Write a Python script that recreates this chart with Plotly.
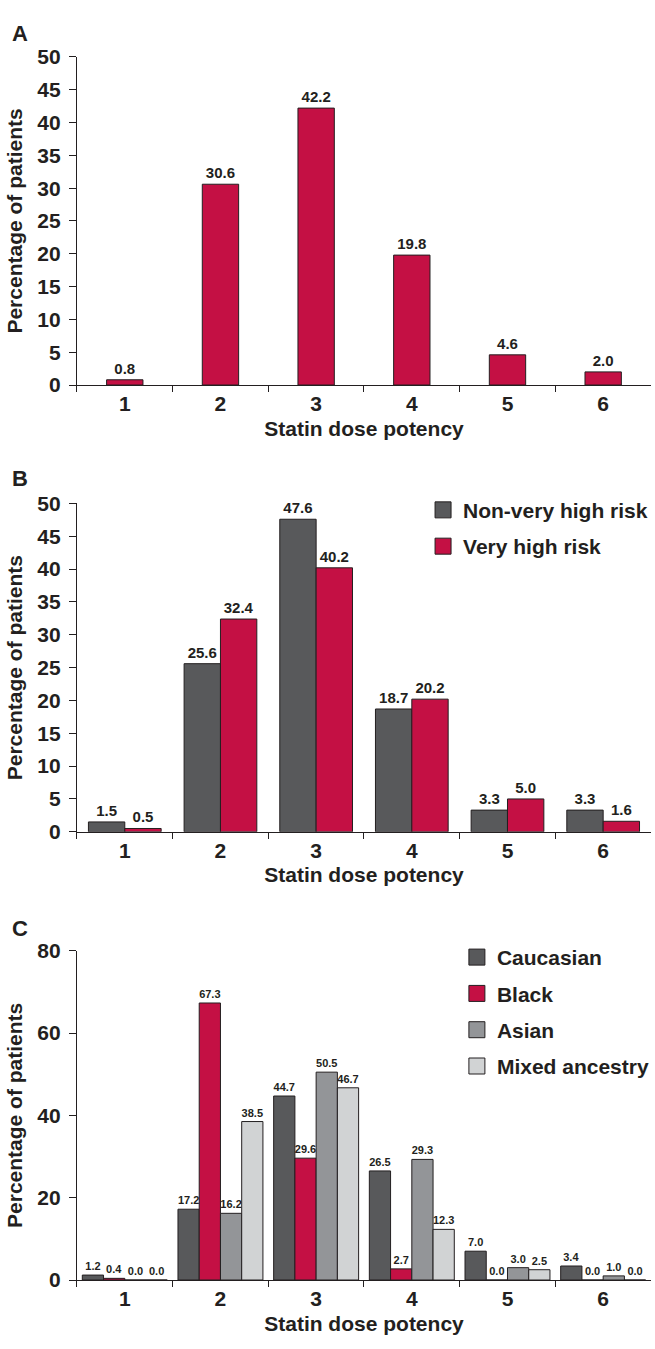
import plotly.graph_objects as go

categories = ["1", "2", "3", "4", "5", "6"]

# Panel A
overall = [0.8, 30.6, 42.2, 19.8, 4.6, 2.0]

# Panel B
non_very_high = [1.5, 25.6, 47.6, 18.7, 3.3, 3.3]
very_high = [0.5, 32.4, 40.2, 20.2, 5.0, 1.6]

# Panel C
caucasian = [1.2, 17.2, 44.7, 26.5, 7.0, 3.4]
black = [0.4, 67.3, 29.6, 2.7, 0.0, 0.0]
asian = [0.0, 16.2, 50.5, 29.3, 3.0, 1.0]
mixed = [0.0, 38.5, 46.7, 12.3, 2.5, 0.0]

RED = "#C41044"
DARK = "#58595B"
MID = "#939598"
LIGHT = "#D1D3D4"
INK = "#231F20"
FONT = "Liberation Sans, Arial, Helvetica, sans-serif"

W, H = 655, 1349


def py(px):
    return 1 - px / H


fig = go.Figure()


def fmt(v):
    return [f"{x:.1f}" for x in v]


def add_bar(vals, color, xa, ya, offset, width, size):
    fig.add_trace(go.Bar(
        x=categories, y=vals, text=fmt(vals), textposition="outside",
        textfont=dict(family=FONT, size=size, color=INK, weight="bold"),
        constraintext="none", cliponaxis=False,
        marker=dict(color=color, line=dict(color=INK, width=1)),
        offset=offset, width=width, xaxis=xa, yaxis=ya,
        showlegend=False,
    ))


add_bar(overall, RED, "x", "y", -0.19, 0.38, 15)

add_bar(non_very_high, DARK, "x2", "y2", -0.38, 0.38, 15)
add_bar(very_high, RED, "x2", "y2", 0.0, 0.38, 15)

cw = 0.222
for i, (vals, col) in enumerate([(caucasian, DARK), (black, RED), (asian, MID), (mixed, LIGHT)]):
    add_bar(vals, col, "x3", "y3", -2 * cw + i * cw, cw, 11)

# legend entries
for nm, col, lg in [("Non-very high risk", DARK, "legend"), ("Very high risk", RED, "legend"),
                    ("Caucasian", DARK, "legend2"), ("Black", RED, "legend2"),
                    ("Asian", MID, "legend2"), ("Mixed ancestry", LIGHT, "legend2")]:
    fig.add_trace(go.Scatter(
        x=[None], y=[None], mode="markers", name=nm, legend=lg, legendgroup=nm,
        marker=dict(symbol="square", size=16, color=col, line=dict(color=INK, width=1)),
        xaxis="x2", yaxis="y2", showlegend=True,
    ))

axis_font = dict(family=FONT, size=21, color=INK, weight="bold")
xdom = [77.3 / W, 654 / W]


def xaxis(anchor):
    return dict(
        domain=xdom, anchor=anchor, type="category", range=[-0.5, 5.5],
        tickson="boundaries", ticks="outside", ticklen=6, tickwidth=1.2, tickcolor=INK,
        showline=True, linecolor=INK, linewidth=1.2, showgrid=False,
        tickfont=axis_font,
        title=dict(text="Statin dose potency", font=axis_font, standoff=6),
    )


def yaxis(anchor, dom, rng, dtick):
    return dict(
        domain=dom, anchor=anchor, range=rng, dtick=dtick,
        ticks="outside", ticklen=7, tickwidth=1.2, tickcolor=INK,
        showline=True, linecolor=INK, linewidth=1.2, showgrid=False, zeroline=False,
        tickfont=axis_font, ticklabelstandoff=4,
        title=dict(text="Percentage of patients", font=axis_font, standoff=8),
    )


leg_font = dict(family=FONT, size=21, color=INK, weight="bold")

fig.update_layout(
    width=W, height=H,
    margin=dict(l=0, r=0, t=0, b=0),
    paper_bgcolor="white", plot_bgcolor="white",
    barmode="overlay",
    font=dict(family=FONT, color=INK),
    xaxis=xaxis("y"),
    yaxis=yaxis("x", [py(379.5), py(45.7)], [0, 50], 5),
    xaxis2=xaxis("y2"),
    yaxis2=yaxis("x2", [py(834), py(500)], [0, 50], 5),
    xaxis3=xaxis("y3"),
    yaxis3=yaxis("x3", [py(1290), py(955)], [0, 80], 20),
    legend=dict(x=425 / W, y=py(486), xanchor="left", yanchor="top",
                font=leg_font, bgcolor="rgba(0,0,0,0)", tracegroupgap=6,
                traceorder="grouped"),
    legend2=dict(x=459 / W, y=py(941), xanchor="left", yanchor="top",
                 font=leg_font, bgcolor="rgba(0,0,0,0)", tracegroupgap=6,
                 traceorder="grouped"),
)

for letter, ypx in [("A", 21.5), ("B", 475), ("C", 932)]:
    fig.add_annotation(text=letter, x=20 / W, y=py(ypx), xref="paper", yref="paper",
                       showarrow=False, xanchor="center", yanchor="middle",
                       font=dict(family=FONT, size=22, color=INK, weight="bold"))

fig.write_html(
    "out.html",
    config={"displayModeBar": False},
    post_script="document.body.style.margin='0';document.body.style.overflow='hidden';",
)
